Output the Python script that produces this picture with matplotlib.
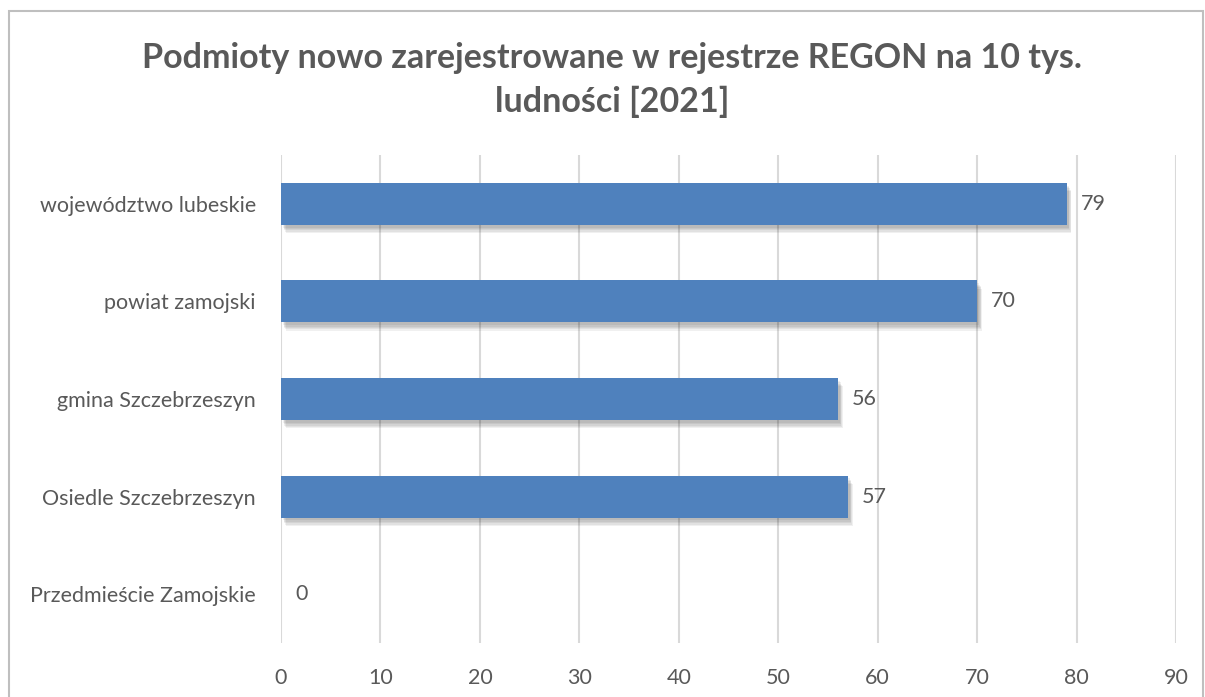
import matplotlib
matplotlib.use("Agg")
import matplotlib.pyplot as plt
import matplotlib.patheffects as pe
from matplotlib.patches import Rectangle

# dane
categories = ["województwo lubeskie", "powiat zamojski", "gmina Szczebrzeszyn",
              "Osiedle Szczebrzeszyn", "Przedmieście Zamojskie"]
values = [79, 70, 56, 57, 0]
xticks = [0, 10, 20, 30, 40, 50, 60, 70, 80, 90]

plt.rcParams['font.family'] = ['Lato', 'DejaVu Sans']
txt = '#595959'

fig = plt.figure(figsize=(12.05, 6.97), dpi=100)
ax = fig.add_axes([281/1205, 1 - 643/697, (1176-281)/1205, (643-155)/697])

ypos = list(range(len(categories)))[::-1]
bars = ax.barh(ypos, values, height=0.43, color='#4F81BD', zorder=3)
# miekki cien pod slupkami
shadow = []
for k in range(1, 6):
    shadow.append(pe.SimplePatchShadow(offset=(1 + k * 0.5, -1 - k), shadow_rgbFace='black', alpha=0.06))
for b in bars:
    b.set_path_effects(shadow + [pe.Normal()])

for y, v in zip(ypos, values):
    ax.text(v + 1.4, y, str(v), va='center', ha='left', fontsize=15.5, color=txt)

ax.set_xlim(0, 90)
ax.set_ylim(-0.5, len(categories) - 0.5)
ax.set_xticks(xticks)
ax.set_yticks(ypos)
ax.set_yticklabels(categories)
ax.tick_params(axis='both', length=0, labelsize=15.5, colors=txt)
ax.tick_params(axis='x', pad=18)
ax.tick_params(axis='y', pad=18)
ax.grid(axis='x', color='#D9D9D9', linewidth=1.5, zorder=0)
for s in ax.spines.values():
    s.set_visible(False)

fig.text(612/1205, 1 - 80/697, "Podmioty nowo zarejestrowane w rejestrze REGON na 10 tys.\nludności [2021]",
         ha='center', va='center', fontsize=24.5, fontweight='bold', color=txt, linespacing=1.42)

# ramka wykresu
fig.patches.append(Rectangle((9/1205, -0.01), 1194/1205, 1 - 11/697 + 0.01, transform=fig.transFigure,
                             fill=False, edgecolor='#BFBFBF', linewidth=1.5))

fig.savefig("out.png", dpi=100)
